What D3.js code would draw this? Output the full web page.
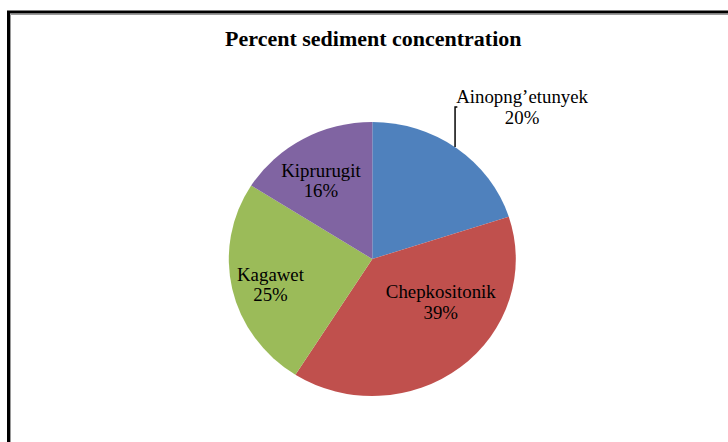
<!DOCTYPE html>
<html>
<head>
<meta charset="utf-8">
<script src="https://cdn.jsdelivr.net/npm/d3@7"></script>
<style>
  html, body { margin: 0; padding: 0; background: #fff; }
  svg { display: block; }
</style>
</head>
<body>
<svg id="chart" width="728" height="442"></svg>
<script>
// ---- data ----
const title = "Percent sediment concentration";
const categories = ["Ainopng’etunyek", "Chepkositonik", "Kagawet", "Kiprurugit"];
const values = [20, 39, 25, 16];

// ---- styling / layout ----
const colors = ["#4F81BD", "#C0504D", "#9BBB59", "#8064A2"];
const W = 728, H = 442;
const cx = 372.3, cy = 259, radius = 137, sx = 1.0475;
const font = "'Liberation Serif', 'Times New Roman', serif";
// label block placement (unscaled pie coordinates, baseline of first line)
const labelPlacement = {
  "Ainopng’etunyek": { x: 143, y: -155.7 },
  "Chepkositonik": { x: 65.4, y: 39.3 },
  "Kagawet": { x: -97.2, y: 21.7 },
  "Kiprurugit": { x: -49, y: -82.3 }
};

const svg = d3.select("#chart");
svg.append("rect").attr("width", W).attr("height", H).attr("fill", "#fff");

// frame
svg.append("rect").attr("x", 8.5).attr("y", 12).attr("width", 900).attr("height", 600)
  .attr("fill", "none").attr("stroke", "#000").attr("stroke-width", 3);
svg.append("path").attr("d", "M10.5,900V14.5H900")
  .attr("fill", "none").attr("stroke", "#9a9a9a").attr("stroke-width", 1);

// title
svg.append("text")
  .attr("transform", `translate(373.3,45.7) scale(${sx},1)`)
  .attr("text-anchor", "middle")
  .attr("font-family", font).attr("font-weight", "bold").attr("font-size", 21)
  .attr("fill", "#000")
  .text(title);

const total = d3.sum(values);
const table = categories.map((c, i) => ({ name: c, value: values[i], color: colors[i] }));

const pie = d3.pie().sort(null).value(d => d.value).startAngle(0).endAngle(2 * Math.PI);
const arc = d3.arc().innerRadius(0).outerRadius(radius);

const g = svg.append("g").attr("transform", `translate(${cx},${cy}) scale(${sx},1)`);

g.selectAll("path.slice").data(pie(table)).join("path")
  .attr("class", "slice")
  .attr("d", arc)
  .attr("fill", d => d.data.color);

// leader line for the outside label
const lx = 79, ly = -152;
const edgeY = -Math.sqrt(radius * radius - lx * lx);
g.append("path")
  .attr("d", `M${lx + 2.2},${ly}H${lx}V${edgeY}`)
  .attr("fill", "none").attr("stroke", "#000").attr("stroke-width", 1.4);

// labels
const labels = g.selectAll("text.lbl").data(pie(table)).join("text")
  .attr("class", "lbl")
  .attr("text-anchor", "middle")
  .attr("font-family", font).attr("font-size", 18)
  .attr("fill", "#000")
  .attr("transform", d => {
    const p = labelPlacement[d.data.name];
    return `translate(${p.x},${p.y})`;
  });
labels.append("tspan").attr("x", 0).attr("y", 0).text(d => d.data.name);
labels.append("tspan").attr("x", 0).attr("y", 20.5)
  .text(d => Math.round(d.data.value / total * 100) + "%");
</script>
</body>
</html>
